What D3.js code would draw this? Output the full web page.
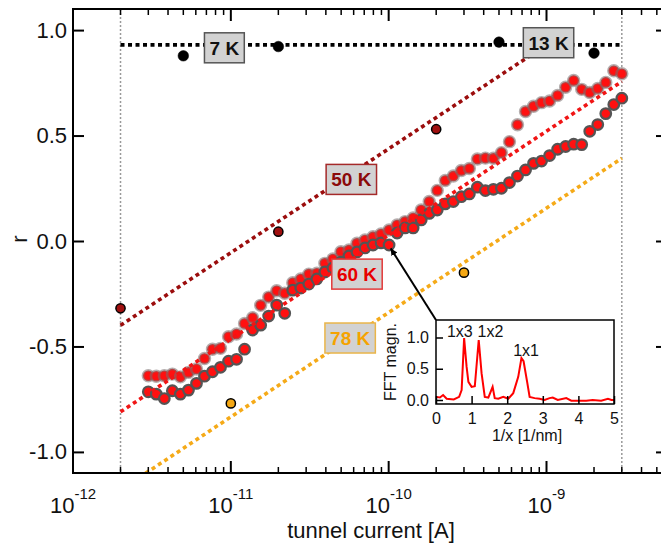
<!DOCTYPE html>
<html>
<head>
<meta charset="utf-8">
<script src="https://cdn.jsdelivr.net/npm/d3@7"></script>
<style>
	body { margin: 0; background: #fff; }
	text { font-family: "Liberation Sans", Arial, sans-serif; }
</style>
</head>
<body>
<script>
// 60 K sweep, tunnel current [A]
var currents = [3.00e-12, 3.37e-12, 3.79e-12, 4.26e-12, 4.79e-12, 5.39e-12, 6.06e-12, 6.81e-12, 7.65e-12, 8.60e-12,
	9.67e-12, 1.087e-11, 1.222e-11, 1.374e-11, 1.545e-11, 1.737e-11, 1.953e-11, 2.195e-11, 2.468e-11, 2.774e-11,
	3.119e-11, 3.507e-11, 3.942e-11, 4.432e-11, 4.983e-11, 5.602e-11, 6.298e-11, 7.080e-11, 7.960e-11, 8.949e-11,
	1.006e-10, 1.131e-10, 1.271e-10, 1.429e-10, 1.607e-10, 1.807e-10, 2.031e-10, 2.283e-10, 2.567e-10, 2.886e-10,
	3.244e-10, 3.647e-10, 4.100e-10, 4.610e-10, 5.182e-10, 5.826e-10, 6.550e-10, 7.364e-10, 8.278e-10, 9.306e-10,
	1.046e-9, 1.176e-9, 1.322e-9, 1.486e-9, 1.671e-9, 1.879e-9, 2.112e-9, 2.374e-9, 2.669e-9, 3.000e-9]
var rUpper = [-0.639, -0.641, -0.639, -0.631, -0.644, -0.623, -0.607, -0.557, -0.513, -0.509,
	-0.454, -0.441, -0.391, -0.364, -0.305, -0.266, -0.236, -0.248, -0.198, -0.180,
	-0.157, -0.153, -0.106, -0.085, -0.051, -0.043, -0.011, 0.005, 0.020, 0.033,
	0.052, 0.076, 0.092, 0.109, 0.147, 0.187, 0.240, 0.287, 0.308, 0.334,
	0.344, 0.389, 0.393, 0.392, 0.419, 0.471, 0.551, 0.614, 0.639, 0.656,
	0.664, 0.690, 0.729, 0.761, 0.719, 0.704, 0.723, 0.752, 0.807, 0.793]
var rLower = [-0.715, -0.726, -0.747, -0.710, -0.726, -0.707, -0.675, -0.641, -0.620, -0.599,
	-0.570, -0.561, -0.513, -0.422, -0.399, -0.356, -0.304, -0.343, -0.233, -0.223,
	-0.204, -0.180, -0.147, -0.128, -0.100, -0.071, -0.052, -0.033, -0.019, -0.009,
	-0.019, 0.038, 0.062, 0.062, 0.100, 0.131, 0.147, 0.176, 0.187, 0.210,
	0.223, 0.255, 0.239, 0.245, 0.250, 0.277, 0.308, 0.337, 0.368, 0.379,
	0.405, 0.435, 0.448, 0.459, 0.457, 0.520, 0.552, 0.604, 0.647, 0.677]

// single points
var cur7K = [5e-12, 2e-11, 5e-10, 2e-9]
var r7K = [0.878, 0.922, 0.943, 0.891]
var cur50K = [2e-12, 2e-11, 2e-10]
var r50K = [-0.319, 0.044, 0.530]
var cur78K = [1e-11, 3e-10]
var r78K = [-0.770, -0.150]

// fitted lines (start, end)
var fitCur = [2e-12, 3e-9]
var fitCur50K = [2e-12, 1e-9]
var fit7K = [0.93, 0.93]
var fit50K = [-0.40, 0.93]
var fit60K = [-0.81, 0.756]
var fit78K = [-1.18, 0.392]
var limitCurrents = [2e-12, 3e-9]

// temperature labels
var tempLabels = ['7 K', '13 K', '50 K', '60 K', '78 K']
var labelCur = [9.1e-12, 1.03e-9, 5.8e-11, 6.3e-11, 5.7e-11]
var labelR = [0.916, 0.94, 0.292, -0.157, -0.46]
var labelText = ['#111', '#111', '#8b0a0a', '#e80000', '#f5a300']
var labelBorder = ['#555', '#555', '#a52a2a', '#e23a3a', '#e9b54a']

// inset FFT
var fftX = [0, 0.11, 0.2, 0.3, 0.5, 0.65, 0.72, 0.79, 0.86, 0.91, 1.0, 1.09, 1.2, 1.28, 1.37, 1.47, 1.59, 1.65, 1.75, 1.89,
	2.03, 2.17, 2.31, 2.4, 2.46, 2.56, 2.63, 2.77, 2.91, 3.05, 3.19, 3.28, 3.42, 3.66, 3.8, 4.03, 4.22, 4.4, 4.64, 4.83, 4.93, 5.0]
var fftY = [0.05, 0.04, 0.08, 0.02, 0.01, 0.05, 0.16, 0.99, 0.53, 0.29, 0.21, 0.22, 0.96, 0.43, 0.05, 0.04, 0.21, 0.03, 0.02, 0.05,
	0.02, 0.11, 0.37, 0.67, 0.62, 0.29, 0.05, 0.03, 0.02, 0.0, 0.03, 0.04, 0.0, 0.03, -0.01, -0.01, -0.01, 0.0, -0.01, 0.02, 0.0, 0.0]
var peakNames = ['1x3', '1x2', '1x1']
var peakX = [0.67, 1.53, 2.53]
var peakY = [1.01, 1.01, 0.70]

var arrowTip = [1.03e-10, -0.035]

var W = 661, H = 544
var padL = 73, padR = 667, padT = 9, padB = 473

var svg = d3.select('body').append('svg')
	.attr('width', W)
	.attr('height', H)

var x = d3.scaleLog().domain([1e-12, 5.8e-9]).range([padL, padR])
var y = d3.scaleLinear().domain([-1.1, 1.1]).range([padB, padT])

function fmt(v){ return d3.format('.1f')(v).replace('\u2212', '-') }

svg.append('clipPath').attr('id', 'plotclip')
	.append('rect').attr('x', padL).attr('y', padT).attr('width', padR - padL).attr('height', padB - padT)

var plot = svg.append('g').attr('clip-path', 'url(#plotclip)')

// vertical limit lines
plot.selectAll('.limit').data(limitCurrents).enter().append('line')
	.attr('x1', function(d){ return x(d) })
	.attr('x2', function(d){ return x(d) })
	.attr('y1', padT)
	.attr('y2', padB)
	.style('stroke', '#999')
	.style('stroke-width', 1.5)
	.style('stroke-dasharray', '2,2')

// 60 K data, two branches
function branch(vals, cls, stroke, sw){
	plot.selectAll('.' + cls).data(vals).enter().append('circle')
		.attr('class', cls)
		.attr('cx', function(d, i){ return x(currents[i]) })
		.attr('cy', function(d){ return y(d) })
		.attr('r', 5.3)
		.style('fill', '#ff1010')
		.style('stroke', stroke)
		.style('stroke-width', sw)
}
branch(rUpper, 'up', 'rgba(120,110,110,0.55)', 2.8)
branch(rLower, 'low', '#555', 2.2)

// fit lines
var fits = [
	{ cur: fitCur, r: fit7K, color: '#000' },
	{ cur: fitCur50K, r: fit50K, color: '#9b0d0d' },
	{ cur: fitCur, r: fit60K, color: '#f01515' },
	{ cur: fitCur, r: fit78K, color: '#f5aa18' }
]
plot.selectAll('.fit').data(fits).enter().append('line')
	.attr('class', 'fit')
	.attr('x1', function(d){ return x(d.cur[0]) })
	.attr('y1', function(d){ return y(d.r[0]) })
	.attr('x2', function(d){ return x(d.cur[1]) })
	.attr('y2', function(d){ return y(d.r[1]) })
	.style('stroke', function(d){ return d.color })
	.style('stroke-width', 3.6)
	.style('stroke-dasharray', '4,3.5')

// single points
function dots(cs, rs, fill, rad, sw){
	plot.selectAll(null).data(cs).enter().append('circle')
		.attr('cx', function(d){ return x(d) })
		.attr('cy', function(d, i){ return y(rs[i]) })
		.attr('r', rad)
		.style('fill', fill)
		.style('stroke', '#000')
		.style('stroke-width', sw)
}
dots(cur7K, r7K, '#000', 5.3, 0.5)
dots(cur50K, r50K, '#a00f0f', 4.6, 1.5)
dots(cur78K, r78K, '#f5a814', 4.6, 1.5)

// labels
var lab = svg.selectAll('.lab').data(tempLabels).enter().append('g').attr('class', 'lab')
	.attr('transform', function(d, i){ return 'translate(' + x(labelCur[i]) + ',' + y(labelR[i]) + ')' })
lab.append('rect')
lab.append('text')
	.attr('text-anchor', 'middle')
	.attr('dy', '0.36em')
	.style('font-size', '19px')
	.style('font-weight', 'bold')
	.style('fill', function(d, i){ return labelText[i] })
	.text(function(d){ return d })
lab.each(function(d, i){
	var g = d3.select(this)
	var bb = g.select('text').node().getBBox()
	g.select('rect')
		.attr('x', -bb.width / 2 - 5)
		.attr('y', -15)
		.attr('width', bb.width + 10)
		.attr('height', 30)
		.style('fill', '#d2d2d2')
		.style('stroke', labelBorder[i])
		.style('stroke-width', 1.5)
})

// axes
var yTicks = [-1.0, -0.5, 0.0, 0.5, 1.0]
var yAxis = svg.append('g').attr('transform', 'translate(' + padL + ',0)')
	.call(d3.axisLeft(y).tickValues(yTicks).tickSize(-11).tickPadding(6).tickFormat(fmt))
yAxis.select('.domain').remove()
yAxis.selectAll('text').style('font-size', '22px').style('fill', '#111')
yAxis.selectAll('line').style('stroke-width', 2)

var yAxisR = svg.append('g').attr('transform', 'translate(' + padR + ',0)')
	.call(d3.axisRight(y).tickValues(yTicks).tickSize(-11).tickFormat(''))
yAxisR.select('.domain').remove()
yAxisR.selectAll('line').style('stroke-width', 2)

var majors = [1e-12, 1e-11, 1e-10, 1e-9]
var minors = []
for (var e = -12; e <= -9; e++) {
	for (var k = 2; k <= 9; k++) {
		var v = k * Math.pow(10, e)
		if (v < 5.8e-9) minors.push(v)
	}
}
function xTicks(g, pos, sign){
	g.selectAll('.maj').data(majors).enter().append('line')
		.attr('x1', function(d){ return x(d) }).attr('x2', function(d){ return x(d) })
		.attr('y1', pos).attr('y2', pos + sign * 12)
		.style('stroke', '#000').style('stroke-width', 2)
	g.selectAll('.min').data(minors).enter().append('line')
		.attr('x1', function(d){ return x(d) }).attr('x2', function(d){ return x(d) })
		.attr('y1', pos).attr('y2', pos + sign * 6)
		.style('stroke', '#000').style('stroke-width', 1.5)
}
xTicks(svg.append('g'), padB, -1)
xTicks(svg.append('g'), padT, 1)

var xl = svg.selectAll('.xl').data(majors).enter().append('text')
	.attr('x', function(d){ return x(d) })
	.attr('y', 513)
	.attr('text-anchor', 'middle')
	.style('font-size', '22px')
	.style('fill', '#111')
xl.append('tspan').text('10')
xl.append('tspan')
	.attr('dy', -14)
	.style('font-size', '15px')
	.text(function(d){ return Math.round(Math.log10(d)) })

// frame
svg.append('path')
	.attr('d', 'M' + padR + ',' + padT + 'H' + padL + 'V' + padB + 'H' + padR)
	.style('fill', 'none')
	.style('stroke', '#000')
	.style('stroke-width', 2)

svg.append('text')
	.attr('x', 371)
	.attr('y', 538)
	.attr('text-anchor', 'middle')
	.style('font-size', '22px')
	.style('fill', '#111')
	.text('tunnel current [A]')

svg.append('text')
	.attr('transform', 'translate(27,239) rotate(-90)')
	.attr('text-anchor', 'middle')
	.style('font-size', '22px')
	.style('fill', '#111')
	.text('r')

// inset
var ix = d3.scaleLinear().domain([0, 5]).range([436, 614])
var iy = d3.scaleLinear().domain([-0.064, 1.28]).range([404, 320])

svg.append('defs').append('marker')
	.attr('id', 'head')
	.attr('viewBox', '0 0 10 10')
	.attr('refX', 10).attr('refY', 5)
	.attr('markerWidth', 7).attr('markerHeight', 7)
	.attr('markerUnits', 'userSpaceOnUse')
	.attr('orient', 'auto')
	.append('path').attr('d', 'M0,0L10,5L0,10Z').style('fill', '#000')

svg.append('line')
	.attr('x1', ix(0)).attr('y1', iy(1.28))
	.attr('x2', x(arrowTip[0])).attr('y2', y(arrowTip[1]))
	.style('stroke', '#000')
	.style('stroke-width', 2)
	.attr('marker-end', 'url(#head)')

svg.append('rect')
	.attr('x', ix(0)).attr('y', iy(1.28))
	.attr('width', ix(5) - ix(0)).attr('height', iy(-0.064) - iy(1.28))
	.style('fill', '#fff')

var line = d3.line()
	.x(function(d, i){ return ix(fftX[i]) })
	.y(function(d){ return iy(d) })
svg.append('path')
	.attr('d', line(fftY))
	.style('fill', 'none')
	.style('stroke', '#f00')
	.style('stroke-width', 2)

var iyAxis = svg.append('g').attr('transform', 'translate(' + ix(0) + ',0)')
	.call(d3.axisLeft(iy).tickValues([0, 0.5, 1.0]).tickSize(-7).tickPadding(7).tickFormat(fmt))
iyAxis.select('.domain').remove()
iyAxis.selectAll('text').style('font-size', '16px').style('fill', '#111')
iyAxis.selectAll('line').style('stroke-width', 1.5)

var ixAxis = svg.append('g').attr('transform', 'translate(0,' + iy(-0.064) + ')')
	.call(d3.axisBottom(ix).tickValues([0, 1, 2, 3, 4, 5]).tickSize(-8).tickPadding(9).tickFormat(d3.format('d')))
ixAxis.select('.domain').remove()
ixAxis.selectAll('text').style('font-size', '16px').style('fill', '#111')
ixAxis.selectAll('line').style('stroke-width', 1.5)

svg.append('rect')
	.attr('x', ix(0)).attr('y', iy(1.28))
	.attr('width', ix(5) - ix(0)).attr('height', iy(-0.064) - iy(1.28))
	.style('fill', 'none')
	.style('stroke', '#000')
	.style('stroke-width', 1.5)

svg.selectAll('.peak').data(peakNames).enter().append('text')
	.attr('x', function(d, i){ return ix(peakX[i]) })
	.attr('y', function(d, i){ return iy(peakY[i]) })
	.attr('text-anchor', 'middle')
	.style('font-size', '16px')
	.style('fill', '#111')
	.text(function(d){ return d })

svg.append('text')
	.attr('x', 527)
	.attr('y', 441)
	.attr('text-anchor', 'middle')
	.style('font-size', '16px')
	.style('fill', '#111')
	.text('1/x [1/nm]')

svg.append('text')
	.attr('transform', 'translate(396,362) rotate(-90)')
	.attr('text-anchor', 'middle')
	.style('font-size', '16px')
	.style('fill', '#111')
	.text('FFT magn.')
</script>
</body>
</html>
